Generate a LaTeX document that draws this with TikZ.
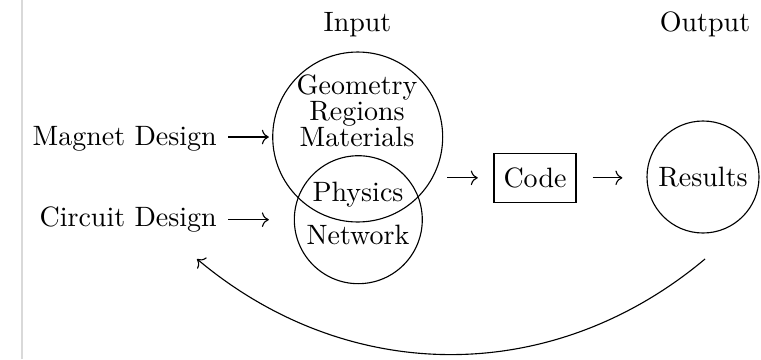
\documentclass[tikz,border=0pt]{standalone}
\usetikzlibrary{arrows.meta}
\begin{document}
\begin{tikzpicture}[x=0.35714pt, y=0.35714pt,
  lbl/.style={inner sep=0pt, anchor=base},
  ring/.style={circle, draw, inner sep=0pt},
  arr/.style={->, line width=0.4pt}]
\useasboundingbox (0,0) rectangle (761,359);
% page edge
\draw[gray!30, line width=0.4pt] (22,0) -- (22,359);

% column headings
\node[lbl] (hin)  at (357.5,328) {Input};
\node[lbl] (hout) at (705,328) {Output};

% design sources
\node[lbl, anchor=base east] (mag)  at (217.3,214) {Magnet Design};
\node[lbl, anchor=base east] (circ) at (217.3,133) {Circuit Design};

% overlapping input sets
\node[ring, minimum size=60.7pt] (big)   at (357.7,222) {};
\node[ring, minimum size=45.7pt] (small) at (358.3,139.3) {};
\node[lbl, align=center] (geo) at (357,265) {Geometry};
\node[lbl] (reg) at (357,239) {Regions};
\node[lbl] (mat) at (357,213) {Materials};
\node[lbl] (phy) at (358,158) {Physics};
\node[lbl] (net) at (358,115) {Network};

% code and results
\node[draw, minimum width=29.3pt, minimum height=17.5pt, inner sep=0pt] (code) at (535,181.2) {Code};
\node[ring, minimum size=40pt] (res) at (703,182) {Results};

% flow arrows
\draw[arr, shorten <=3.9pt, shorten >=1.2pt] (mag.east |- big.west) -- (big.west);
\draw[arr, shorten <=3.9pt, shorten >=8.9pt] (circ.east |- small.west) -- (small.west);
\draw[arr, shorten <=1.5pt, shorten >=5.6pt] (code.west -| big.east) -- (code.west);
\draw[arr, shorten <=5.7pt, shorten >=8.6pt] (code.east) -- (code.east -| res.west);

% feedback loop
\coordinate (fbA) at (705,100);
\coordinate (fbB) at (197,100);
\draw[arr] (fbA) to[bend left=40] (fbB);
\end{tikzpicture}
\end{document}
